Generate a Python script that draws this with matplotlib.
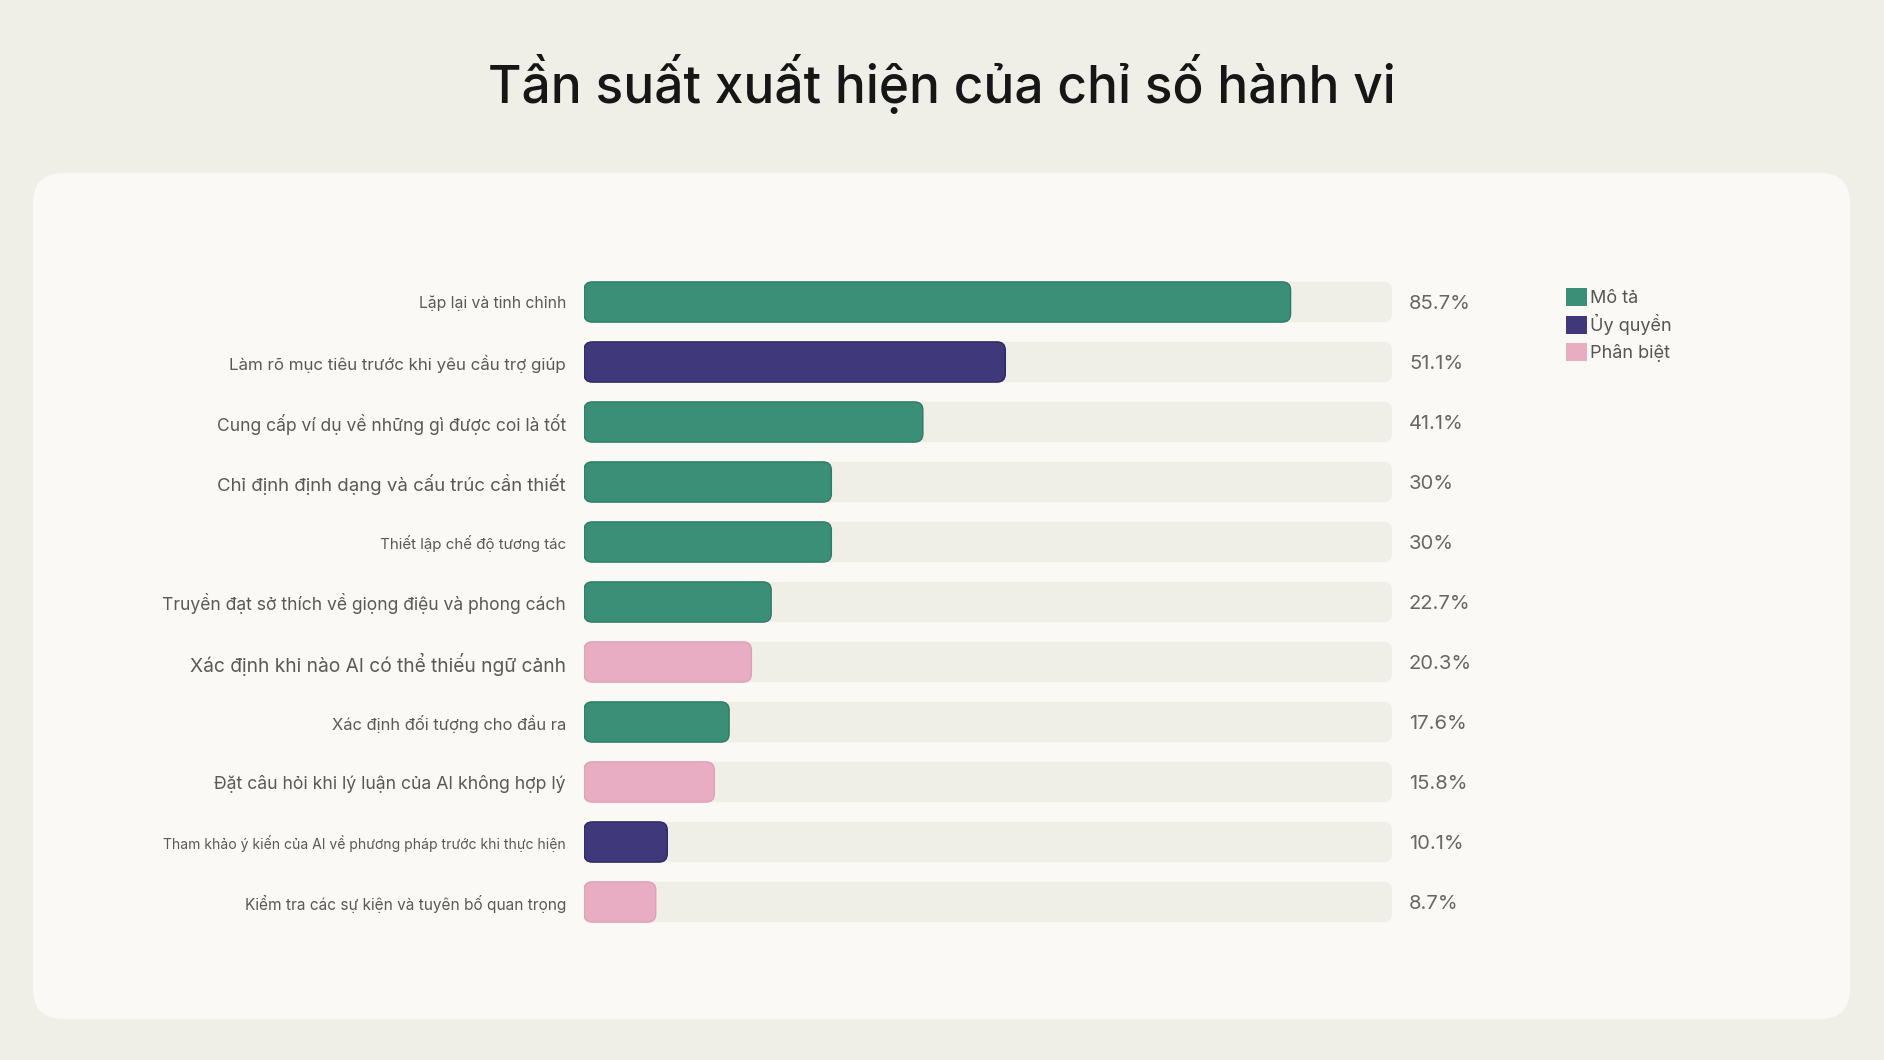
import matplotlib
matplotlib.use('Agg')
import matplotlib.pyplot as plt
from matplotlib.patches import FancyBboxPatch, Patch
from matplotlib.transforms import ScaledTranslation

plt.rcParams['font.family'] = ['Inter', 'DejaVu Sans']

# data
labels = ['Lặp lại và tinh chỉnh',
          'Làm rõ mục tiêu trước khi yêu cầu trợ giúp',
          'Cung cấp ví dụ về những gì được coi là tốt',
          'Chỉ định định dạng và cấu trúc cần thiết',
          'Thiết lập chế độ tương tác',
          'Truyền đạt sở thích về giọng điệu và phong cách',
          'Xác định khi nào AI có thể thiếu ngữ cảnh',
          'Xác định đối tượng cho đầu ra',
          'Đặt câu hỏi khi lý luận của AI không hợp lý',
          'Tham khảo ý kiến của AI về phương pháp trước khi thực hiện',
          'Kiểm tra các sự kiện và tuyên bố quan trọng']
values = [85.7, 51.1, 41.1, 30, 30, 22.7, 20.3, 17.6, 15.8, 10.1, 8.7]
groups = ['Mô tả', 'Ủy quyền', 'Mô tả', 'Mô tả', 'Mô tả', 'Mô tả',
          'Phân biệt', 'Mô tả', 'Phân biệt', 'Ủy quyền', 'Phân biệt']
group_names = ['Mô tả', 'Ủy quyền', 'Phân biệt']

# styles
colors = {'Mô tả': '#3a8f76', 'Ủy quyền': '#3f397b', 'Phân biệt': '#e8adc2'}
edges = {'Mô tả': '#2f7a63', 'Ủy quyền': '#2c2763', 'Phân biệt': '#dea0b7'}
label_sizes = [11.3, 12.2, 12.6, 13.4, 10.9, 12.6, 13.8, 11.85, 12.7, 10.05, 11.1]

W, H = 1884, 1060
fig = plt.figure(figsize=(W / 100, H / 100), dpi=100)
fig.patch.set_facecolor('#efefe8')

card = FancyBboxPatch((33 / W, 1 - 1019 / H), (1850 - 33) / W, (1019 - 173) / H,
                      boxstyle='round,pad=0,rounding_size=0.016',
                      mutation_aspect=W / H, transform=fig.transFigure,
                      facecolor='#faf9f5', edgecolor='none', zorder=-5)
fig.patches.append(card)

fig.text(942 / W, 1 - 84 / H, 'Tần suất xuất hiện của chỉ số hành vi',
         ha='center', va='center', fontsize=37, fontweight='medium', color='#161616')

n = len(labels)
xmax = 98
ax_w = 808
ax = fig.add_axes([584 / W, 1 - 932 / H, ax_w / W, 660 / H])
ax.set_facecolor('none')
ax.set_xlim(0, xmax)
ax.set_ylim(n - 0.5, -0.5)

y = list(range(n))
tracks = ax.barh(y, [xmax] * n, height=0.67, color='#efeee7')
bars = ax.barh(y, values, height=0.67,
               color=[colors[g] for g in groups],
               edgecolor=[edges[g] for g in groups], linewidth=1)

# swap plain rectangles for rounded ones (x units -> y units per pixel)
aspect = (n / 660) / (xmax / ax_w)
for container, z in ((tracks, 1), (bars, 2)):
    for p in container:
        rounded = FancyBboxPatch((p.get_x(), p.get_y()), p.get_width(), p.get_height(),
                                 boxstyle='round,pad=0,rounding_size=1.0',
                                 mutation_aspect=aspect,
                                 facecolor=p.get_facecolor(), edgecolor=p.get_edgecolor(),
                                 linewidth=p.get_linewidth(), zorder=z)
        ax.add_patch(rounded)
        p.set_visible(False)

for i, v in enumerate(values):
    ax.text(1.021, i + 0.03, f'{v:g}%', transform=ax.get_yaxis_transform(),
            ha='left', va='center', fontsize=14.5, color='#666666')

ax.set_yticks(y)
ax.set_yticklabels(labels)
nudge = ScaledTranslation(0, 2.5 / 72, fig.dpi_scale_trans)
for t, s in zip(ax.get_yticklabels(), label_sizes):
    t.set_fontsize(s)
    t.set_color('#595959')
    t.set_transform(t.get_transform() + nudge)
ax.tick_params(axis='y', length=0, pad=13)
ax.set_xticks([])
for s in ax.spines.values():
    s.set_visible(False)

handles = [Patch(facecolor=colors[g], edgecolor='none', label=g) for g in group_names]
fig.legend(handles=handles, loc='upper left', bbox_to_anchor=(1566 / W, 1 - 288 / H),
           frameon=False, fontsize=13, handlelength=1.15, handleheight=1.15,
           handletextpad=0.2, labelspacing=0.4, borderpad=0, borderaxespad=0,
           labelcolor='#555555')

fig.savefig('out.png', dpi=100, facecolor=fig.get_facecolor())
